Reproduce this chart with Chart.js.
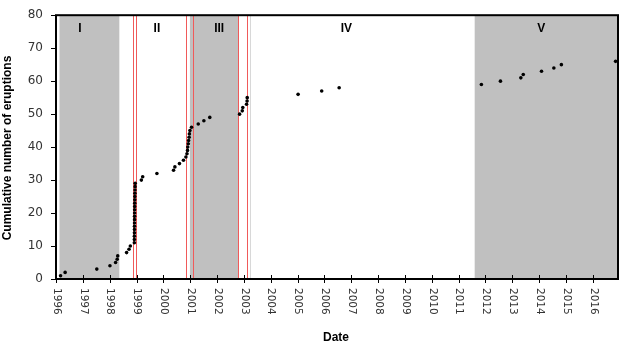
<!DOCTYPE html>
<html><head><meta charset="utf-8">
<script src="https://cdn.jsdelivr.net/npm/chart.js@4.4.1/dist/chart.umd.min.js"></script>
<style>html,body{margin:0;padding:0;background:#fff}#wrap{width:624px;height:348px}</style>
</head><body><div id="wrap"><canvas id="c" width="624" height="348"></canvas></div>
<script>
// ---- data (decimal years) ----
const eruptionDates = [
  1996.17, 1996.34, 1997.52, 1998.01, 1998.22, 1998.28, 1998.30, 1998.63, 1998.72, 1998.77,
  1998.920, 1998.921, 1998.922, 1998.923, 1998.924, 1998.925, 1998.926, 1998.927, 1998.928, 1998.929,
  1998.930, 1998.932, 1998.934, 1998.936, 1998.938, 1998.940, 1998.943, 1998.946, 1998.950,
  1999.18, 1999.23, 1999.76, 2000.38, 2000.43, 2000.60, 2000.75, 2000.84,
  2000.88, 2000.90, 2000.91, 2000.93, 2000.94, 2000.96, 2000.97, 2000.99,
  2001.05, 2001.30, 2001.51, 2001.73,
  2002.84, 2002.94, 2002.96, 2003.10, 2003.12, 2003.125,
  2005.02, 2005.90, 2006.55,
  2011.85, 2012.56, 2013.32, 2013.41, 2014.09, 2014.55, 2014.83, 2016.85
];
const cumulativeCounts = [
  1, 2, 3, 4, 5, 6, 7, 8, 9, 10,
  11, 12, 13, 14, 15, 16, 17, 18, 19, 20,
  21, 22, 23, 24, 25, 26, 27, 28, 29,
  30, 31, 32, 33, 34, 35, 36, 37,
  38, 39, 40, 41, 42, 43, 44, 45,
  46, 47, 48, 49,
  50, 51, 52, 53, 54, 55,
  56, 57, 58,
  59, 60, 61, 62, 63, 64, 65, 66
];
const yearTicks = [1996,1997,1998,1999,2000,2001,2002,2003,2004,2005,2006,2007,2008,2009,2010,2011,2012,2013,2014,2015,2016];
const phaseLabels = ['I', 'II', 'III', 'IV', 'V'];
const phaseLabelDates = [1996.89, 1999.76, 2002.08, 2006.82, 2014.08];
const phaseLabelValue = 75.8;
const shadedStarts = [1996.13, 2000.99, 2011.60];
const shadedEnds = [1998.36, 2002.79, 2016.94];
const redLineDates = [1998.88, 1998.99, 2000.83, 2001.11, 2002.79, 2003.12];
const greyLineDates = [2003.22];
const xMin = 1996, xMax = 2016.94;
const yMin = 0, yMax = 80, yStep = 10;
const xTitle = 'Date';
const yTitle = 'Cumulative number of eruptions';

const points = eruptionDates.map((d, i) => ({x: d, y: cumulativeCounts[i]}));

const overlay = {
  id: 'overlay',
  beforeDatasetsDraw(chart) {
    const {ctx, chartArea: a, scales: {x, y}} = chart;
    ctx.save();
    ctx.fillStyle = '#c0c0c0';
    shadedStarts.forEach((s, i) => {
      const x0 = x.getPixelForValue(s), x1 = x.getPixelForValue(shadedEnds[i]);
      ctx.fillRect(x0, a.top, x1 - x0, a.bottom - a.top);
    });
    ctx.lineWidth = 1;
    ctx.strokeStyle = '#d8d8d8';
    greyLineDates.forEach(d => {
      const px = Math.round(x.getPixelForValue(d)) + 0.5;
      ctx.beginPath(); ctx.moveTo(px, a.top); ctx.lineTo(px, a.bottom); ctx.stroke();
    });
    ctx.strokeStyle = 'rgb(240,90,90)';
    redLineDates.forEach(d => {
      const px = Math.round(x.getPixelForValue(d)) + 0.5;
      ctx.beginPath(); ctx.moveTo(px, a.top); ctx.lineTo(px, a.bottom); ctx.stroke();
    });
    ctx.fillStyle = '#000';
    ctx.font = 'bold 12px "Liberation Sans"';
    ctx.textAlign = 'center';
    ctx.textBaseline = 'middle';
    phaseLabels.forEach((t, i) => {
      ctx.fillText(t, x.getPixelForValue(phaseLabelDates[i]), y.getPixelForValue(phaseLabelValue));
    });
    ctx.restore();
  },
  afterDatasetsDraw(chart) {
    const {ctx, chartArea: a, scales: {x, y}} = chart;
    ctx.save();
    // frame
    ctx.strokeStyle = '#000';
    ctx.lineWidth = 2;
    ctx.strokeRect(a.left, a.top, a.right - a.left, a.bottom - a.top);
    // x tick marks (crossing axis)
    ctx.lineWidth = 1;
    yearTicks.forEach(t => {
      const px = Math.round(x.getPixelForValue(t)) + 0.5;
      ctx.beginPath(); ctx.moveTo(px, a.bottom - 4); ctx.lineTo(px, a.bottom + 4); ctx.stroke();
    });
    // x tick labels, rotated clockwise
    ctx.fillStyle = '#333';
    ctx.font = '10.5px "DejaVu Sans"';
    ctx.textAlign = 'left';
    ctx.textBaseline = 'middle';
    yearTicks.forEach(t => {
      const px = x.getPixelForValue(t);
      ctx.save();
      ctx.translate(px + 0.5, a.bottom + 9);
      ctx.rotate(Math.PI / 2);
      ctx.fillText(String(t), 0, 0);
      ctx.restore();
    });
    // titles
    ctx.fillStyle = '#000';
    ctx.font = 'bold 12px "Liberation Sans"';
    ctx.textAlign = 'center';
    ctx.fillText(xTitle, 336, 338);
    ctx.save();
    ctx.translate(8, 148);
    ctx.rotate(-Math.PI / 2);
    ctx.fillText(yTitle, 0, 0);
    ctx.restore();
    ctx.restore();
  }
};

new Chart(document.getElementById('c'), {
  type: 'scatter',
  data: {
    datasets: [{
      data: points,
      backgroundColor: '#000',
      borderColor: '#000',
      borderWidth: 0,
      pointRadius: 1.8,
      pointHoverRadius: 1.8
    }]
  },
  options: {
    responsive: false,
    animation: false,
    devicePixelRatio: 1,
    layout: {padding: {top: 11, right: 6, left: 0, bottom: 0}},
    plugins: {legend: {display: false}, tooltip: {enabled: false}},
    scales: {
      x: {
        type: 'linear', min: xMin, max: xMax,
        ticks: {display: false},
        grid: {display: false},
        border: {display: false},
        afterFit(s) { s.height = 69; }
      },
      y: {
        min: yMin, max: yMax,
        ticks: {stepSize: yStep, color: '#333', padding: 8, font: {family: 'DejaVu Sans', size: 12}},
        grid: {drawOnChartArea: false, drawTicks: true, tickLength: 5, color: '#000'},
        border: {display: false},
        afterFit(s) { s.width = 56; }
      }
    }
  },
  plugins: [overlay]
});
</script>
</body></html>
